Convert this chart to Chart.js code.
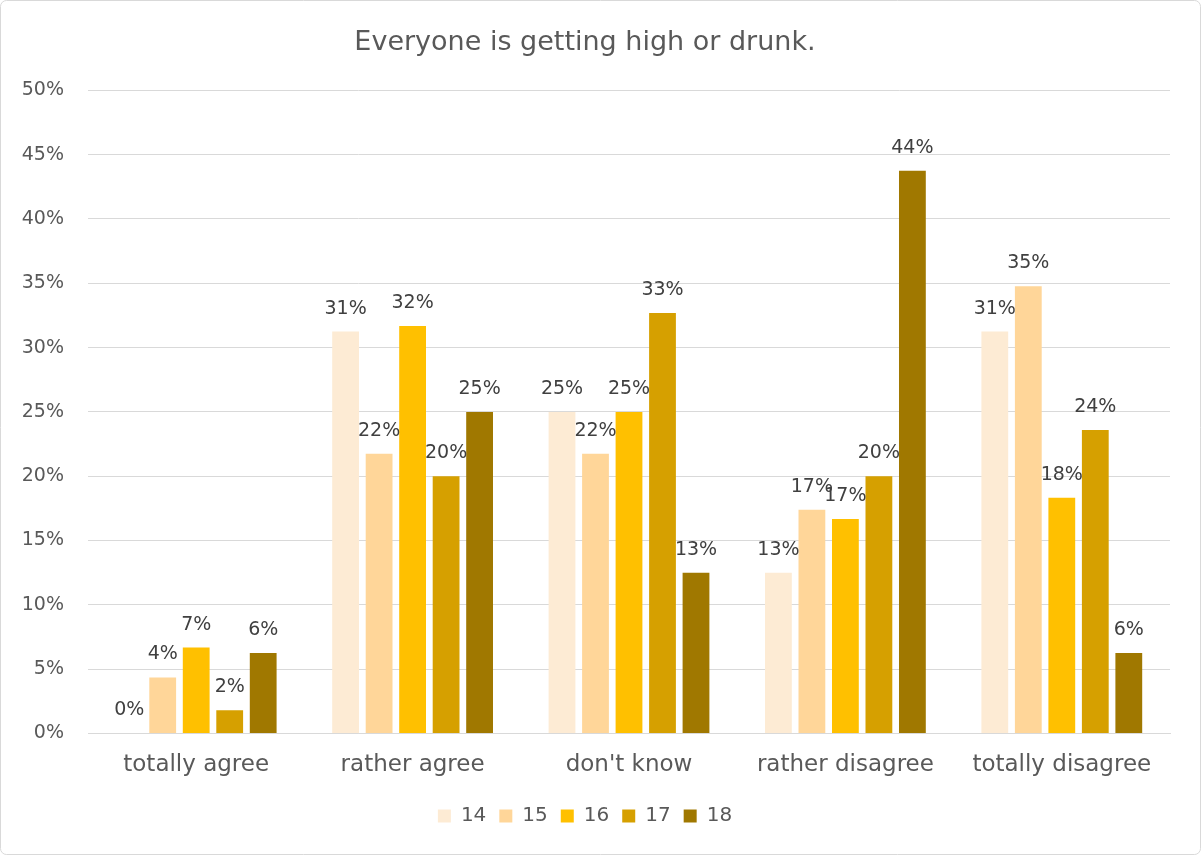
<!DOCTYPE html>
<html>
<head>
<meta charset="utf-8">
<script src="https://cdn.jsdelivr.net/npm/chart.js@4.4.1/dist/chart.umd.min.js"></script>
<style>
html,body{margin:0;padding:0;background:#fff;}
#wrap{position:relative;width:1201px;height:855px;}
</style>
</head>
<body>
<div id="wrap"><canvas id="chart" width="1201" height="855"></canvas></div>
<script>
// categories + one value array per age
const categories = ["totally agree","rather agree","don't know","rather disagree","totally disagree"]
const ages = ["14","15","16","17","18"]
const age14 = [0, 31.25, 25, 12.5, 31.25]
const age15 = [4.35, 21.74, 21.74, 17.39, 34.78]
const age16 = [6.67, 31.67, 25, 16.67, 18.33]
const age17 = [1.8, 20, 32.7, 20, 23.6]
const age18 = [6.25, 25, 12.5, 43.75, 6.25]
const colors = ["#FDEBD4","#FFD699","#FFC000","#D6A000","#A07800"]

const font = "'DejaVu Sans', sans-serif"

// labels above the bars
const barLabels = {
id:"barLabels",
afterDatasetsDraw(chart){
const ctx = chart.ctx
ctx.save()
ctx.font = "19px " + font
ctx.fillStyle = "#404040"
ctx.textAlign = "center"
ctx.textBaseline = "alphabetic"
chart.data.datasets.forEach((ds,i) => {
chart.getDatasetMeta(i).data.forEach((bar,j) => {
ctx.fillText(Math.round(ds.data[j]) + "%", bar.x, bar.y - 18)
})
})
ctx.restore()
}
}

const frame = {
id:"frame",
beforeDraw(chart){
const ctx = chart.ctx
ctx.save()
ctx.fillStyle = "#fff"
ctx.fillRect(0,0,chart.width,chart.height)
ctx.strokeStyle = "#d9d9d9"
ctx.lineWidth = 1
ctx.beginPath()
ctx.roundRect(0.5,0.5,chart.width-1,chart.height-1,6)
ctx.stroke()
ctx.restore()
}
}

const series = [age14, age15, age16, age17, age18]

new Chart(document.getElementById("chart"), {
type:"bar",
data:{
labels:categories,
datasets:series.map((d,i) => ({
label:ages[i],
data:d,
backgroundColor:colors[i],
categoryPercentage:0.774,
barPercentage:0.8
}))
},
options:{
responsive:false,
animation:false,
layout:{padding:{left:0,right:31,top:0,bottom:19}},
plugins:{
title:{
display:true,
text:"Everyone is getting high or drunk.",
color:"#595959",
font:{family:font,size:27,weight:"normal"},
padding:{top:27,bottom:31}
},
legend:{
position:"bottom",
labels:{
color:"#595959",
font:{family:font,size:20},
boxWidth:13,
boxHeight:13,
padding:13
}
},
tooltip:{enabled:false}
},
scales:{
x:{
afterFit(scale){ scale.height = scale.height + 4 },
grid:{display:false},
border:{color:"#d9d9d9"},
ticks:{color:"#595959",font:{family:font,size:23},padding:10}
},
y:{
min:0,
max:50,
afterFit(scale){ scale.width = 88 },
grid:{color:"#d9d9d9",drawTicks:false},
border:{display:false},
ticks:{
stepSize:5,
color:"#595959",
font:{family:font,size:19},
padding:24,
callback:v => v + "%"
}
}
}
},
plugins:[frame, barLabels]
})
</script>
</body>
</html>
